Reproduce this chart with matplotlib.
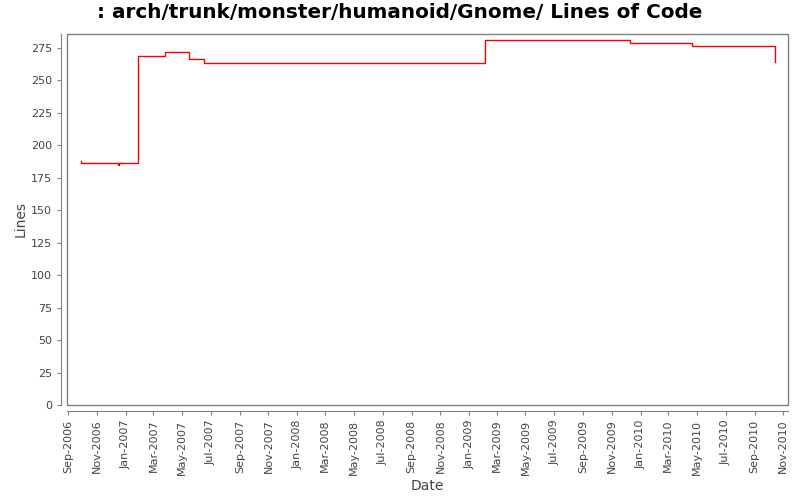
import matplotlib
matplotlib.use("Agg")
import matplotlib.pyplot as plt
import matplotlib.dates as mdates
from matplotlib.patches import Rectangle
import datetime as dt

dates = ["2006-09-27", "2006-09-28", "2006-12-15", "2006-12-18", "2007-01-27",
         "2007-03-26", "2007-05-15", "2007-06-16", "2009-02-03", "2009-12-09",
         "2010-04-20", "2010-10-13", "2010-10-14"]
lines = [188, 186, 185, 186, 269, 272, 266, 263, 281, 279, 276, 276, 264]

x = [dt.datetime.strptime(d, "%Y-%m-%d") for d in dates]

fig = plt.figure(figsize=(8, 5), dpi=100)
ax = fig.add_axes([66.5/800, 95/500, (788-66.5)/800, (405-33.5)/500])

ax.plot(x, lines, drawstyle="steps-post", color="#ff0000", lw=1.0)

ax.set_xlim(dt.datetime(2006, 8, 28), dt.datetime(2010, 11, 11))
ax.set_ylim(0, 286)
ax.set_yticks(range(0, 276, 25))
ax.xaxis.set_major_locator(mdates.MonthLocator(bymonth=[1, 3, 5, 7, 9, 11]))
ax.xaxis.set_major_formatter(mdates.DateFormatter("%b-%Y"))

gray = "#808080"
for s in ["top", "right"]:
    ax.spines[s].set_visible(False)
ax.spines["left"].set_position(("outward", 4))
ax.spines["bottom"].set_position(("outward", 4))
ax.spines["left"].set_color(gray)
ax.spines["bottom"].set_color(gray)
ax.add_patch(Rectangle((0, 0), 1, 1, transform=ax.transAxes, fill=False,
                       edgecolor=gray, lw=1.0, clip_on=False))

ax.tick_params(axis="both", colors=gray, length=3, width=0.8, labelcolor="#444444",
               labelsize=8)
plt.setp(ax.get_xticklabels(), rotation=90)

ax.set_xlabel("Date", fontsize=10, color="#444444", labelpad=3)
ax.set_ylabel("Lines", fontsize=10, color="#444444", labelpad=2)
fig.suptitle(": arch/trunk/monster/humanoid/Gnome/ Lines of Code", fontsize=14.4,
             fontweight="bold", y=0.993)

fig.savefig("out.png", dpi=100)
